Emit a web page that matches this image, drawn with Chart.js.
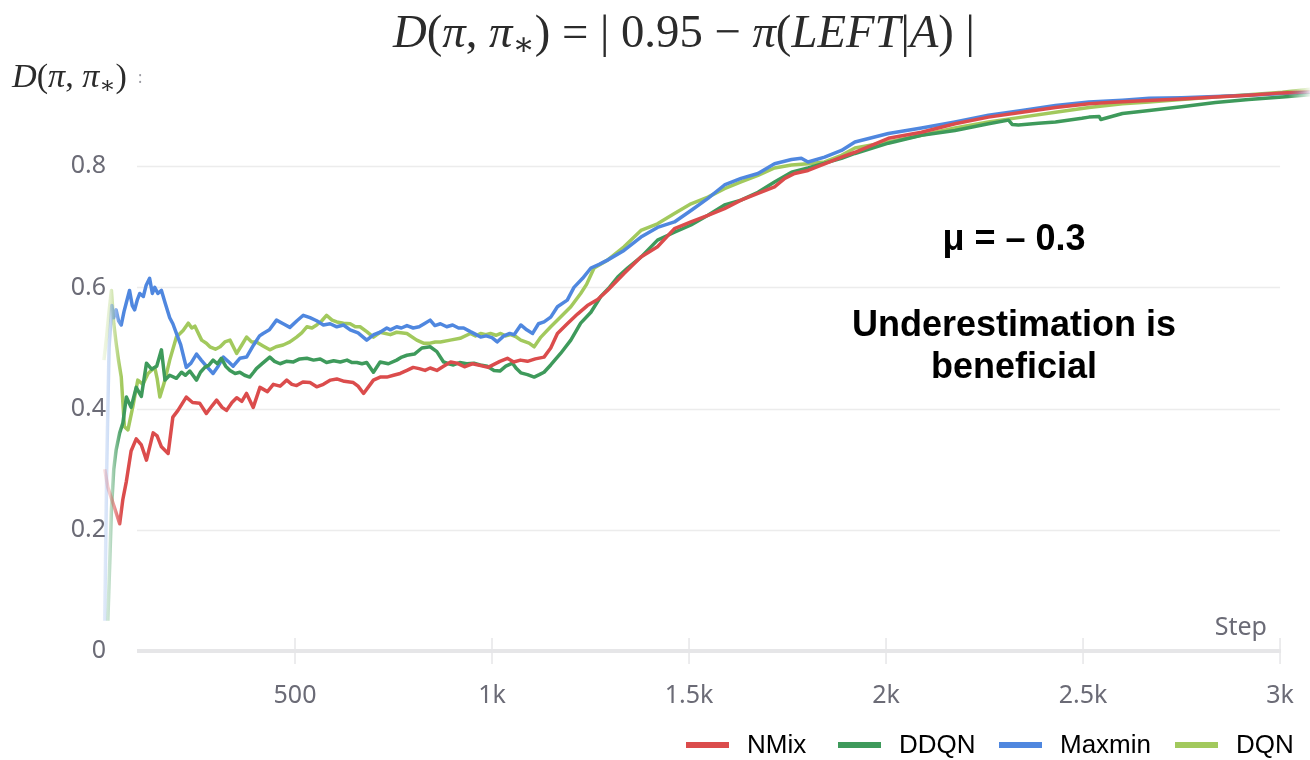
<!DOCTYPE html>
<html>
<head>
<meta charset="utf-8">
<script src="https://cdn.jsdelivr.net/npm/chart.js@4.4.0/dist/chart.umd.min.js"></script>
<style>
  html, body { margin: 0; padding: 0; background: #fff; }
  canvas { display: block; }
</style>
</head>
<body>
<canvas id="chart" width="1310" height="760"></canvas>
<script>
const seriesNames = ["NMix", "DDQN", "Maxmin", "DQN"];
const seriesColors = ["#db4c4c", "#3e9a5b", "#4f87df", "#a2c95d"];
const xTicks = [500, 1000, 1500, 2000, 2500, 3000];
const yTicks = [0, 0.2, 0.4, 0.6, 0.8];

// [step, D] pairs
const nmix = [[17,0.30],[25,0.27],[40,0.24],[55,0.21],[63,0.25],[72,0.28],[84,0.33],[97,0.35],[110,0.34],[123,0.315],[140,0.36],[150,0.355],[161,0.337],[178,0.326],[190,0.386],[203,0.397],[224,0.419],[240,0.41],[258,0.409],[275,0.392],[290,0.405],[301,0.414],[315,0.402],[326,0.397],[340,0.41],[352,0.418],[365,0.412],[377,0.425],[394,0.402],[411,0.435],[430,0.428],[445,0.44],[462,0.437],[479,0.447],[492,0.44],[504,0.438],[520,0.444],[538,0.443],[555,0.436],[572,0.44],[590,0.447],[606,0.449],[625,0.445],[648,0.443],[660,0.437],[674,0.425],[699,0.447],[716,0.452],[733,0.452],[750,0.455],[767,0.458],[784,0.463],[800,0.468],[815,0.466],[830,0.463],[843,0.467],[860,0.463],[877,0.47],[895,0.477],[911,0.475],[930,0.469],[950,0.474],[971,0.471],[990,0.468],[1005,0.473],[1020,0.478],[1039,0.483],[1055,0.477],[1072,0.48],[1090,0.478],[1110,0.482],[1132,0.485],[1149,0.5],[1166,0.524],[1191,0.54],[1217,0.556],[1242,0.57],[1268,0.58],[1293,0.595],[1335,0.623],[1378,0.65],[1420,0.667],[1463,0.697],[1505,0.708],[1548,0.719],[1590,0.73],[1632,0.744],[1675,0.755],[1717,0.766],[1743,0.78],[1768,0.788],[1802,0.793],[1844,0.804],[1887,0.815],[1921,0.823],[2006,0.846],[2090,0.856],[2175,0.87],[2260,0.881],[2345,0.889],[2430,0.897],[2515,0.903],[2565,0.905],[2650,0.908],[2750,0.911],[2836,0.914],[2920,0.917],[3006,0.921],[3076,0.923]];

const ddqn = [[25,0.05],[30,0.15],[34,0.233],[40,0.30],[46,0.332],[55,0.36],[63,0.376],[72,0.419],[84,0.402],[97,0.435],[110,0.42],[123,0.475],[136,0.465],[149,0.47],[161,0.497],[170,0.447],[182,0.455],[199,0.45],[212,0.46],[222,0.455],[233,0.462],[250,0.447],[260,0.46],[271,0.468],[282,0.472],[292,0.48],[303,0.474],[313,0.483],[324,0.47],[335,0.463],[348,0.458],[360,0.46],[372,0.455],[385,0.452],[395,0.46],[402,0.466],[418,0.475],[436,0.485],[448,0.478],[462,0.474],[478,0.478],[496,0.477],[512,0.482],[530,0.483],[547,0.48],[564,0.482],[580,0.476],[598,0.479],[615,0.477],[632,0.48],[645,0.476],[657,0.476],[670,0.474],[682,0.476],[699,0.46],[716,0.477],[737,0.474],[758,0.48],[771,0.485],[784,0.488],[803,0.49],[822,0.5],[843,0.502],[860,0.494],[877,0.477],[890,0.474],[902,0.472],[918,0.476],[936,0.474],[954,0.475],[970,0.472],[988,0.47],[1005,0.463],[1020,0.462],[1035,0.47],[1052,0.475],[1062,0.466],[1073,0.459],[1090,0.456],[1107,0.452],[1120,0.456],[1132,0.46],[1149,0.472],[1174,0.491],[1200,0.513],[1225,0.541],[1251,0.559],[1276,0.585],[1298,0.6],[1319,0.617],[1344,0.632],[1378,0.65],[1420,0.678],[1463,0.691],[1505,0.703],[1548,0.719],[1590,0.736],[1632,0.744],[1675,0.757],[1717,0.774],[1760,0.79],[1802,0.797],[1844,0.805],[1887,0.813],[1921,0.821],[2006,0.838],[2090,0.851],[2175,0.859],[2260,0.87],[2311,0.876],[2320,0.869],[2336,0.868],[2387,0.871],[2430,0.873],[2497,0.879],[2515,0.881],[2541,0.882],[2545,0.877],[2600,0.887],[2668,0.892],[2750,0.898],[2836,0.905],[2920,0.91],[3006,0.914],[3076,0.918]];

const maxmin = [[17,0.05],[22,0.30],[28,0.50],[35,0.57],[40,0.55],[46,0.563],[52,0.545],[59,0.538],[66,0.56],[72,0.575],[80,0.595],[87,0.57],[93,0.563],[100,0.58],[106,0.59],[115,0.585],[122,0.603],[131,0.615],[138,0.59],[144,0.6],[152,0.59],[161,0.595],[170,0.575],[182,0.55],[190,0.54],[199,0.524],[210,0.505],[224,0.468],[236,0.475],[250,0.49],[262,0.48],[275,0.47],[292,0.458],[305,0.47],[318,0.485],[330,0.478],[343,0.47],[360,0.483],[377,0.485],[395,0.505],[410,0.52],[419,0.524],[435,0.53],[453,0.546],[470,0.54],[487,0.534],[505,0.545],[521,0.554],[538,0.55],[555,0.545],[572,0.538],[589,0.54],[606,0.535],[623,0.538],[640,0.53],[660,0.525],[682,0.513],[700,0.522],[716,0.526],[733,0.533],[742,0.53],[758,0.535],[770,0.533],[784,0.537],[800,0.533],[815,0.535],[828,0.54],[843,0.546],[855,0.537],[869,0.54],[885,0.535],[900,0.538],[915,0.533],[928,0.533],[945,0.527],[960,0.522],[971,0.518],[985,0.52],[1000,0.517],[1013,0.51],[1030,0.52],[1045,0.524],[1056,0.522],[1073,0.538],[1088,0.53],[1103,0.524],[1118,0.54],[1132,0.543],[1149,0.551],[1166,0.568],[1191,0.579],[1208,0.6],[1230,0.615],[1251,0.632],[1272,0.638],[1293,0.645],[1335,0.661],[1378,0.683],[1420,0.699],[1463,0.708],[1505,0.727],[1548,0.747],[1590,0.769],[1632,0.78],[1675,0.788],[1717,0.804],[1760,0.811],[1785,0.813],[1802,0.807],[1844,0.815],[1887,0.826],[1921,0.84],[2006,0.854],[2090,0.863],[2175,0.873],[2260,0.884],[2345,0.892],[2430,0.9],[2515,0.906],[2600,0.909],[2668,0.912],[2750,0.913],[2836,0.915],[2920,0.917],[3006,0.92],[3076,0.922]];

const dqn = [[15,0.48],[22,0.52],[28,0.56],[34,0.595],[40,0.54],[46,0.508],[52,0.48],[59,0.452],[67,0.37],[76,0.365],[88,0.402],[101,0.447],[114,0.44],[127,0.458],[144,0.468],[150,0.45],[157,0.419],[170,0.447],[182,0.48],[199,0.518],[216,0.529],[229,0.541],[238,0.533],[246,0.536],[263,0.513],[275,0.508],[284,0.502],[298,0.498],[310,0.502],[322,0.51],[335,0.513],[352,0.491],[365,0.505],[377,0.518],[390,0.51],[402,0.51],[420,0.503],[436,0.497],[452,0.502],[470,0.505],[487,0.51],[504,0.518],[517,0.525],[530,0.535],[543,0.533],[555,0.538],[568,0.545],[580,0.554],[594,0.546],[606,0.543],[623,0.541],[640,0.54],[653,0.535],[665,0.535],[682,0.527],[699,0.518],[716,0.526],[742,0.522],[758,0.526],[784,0.524],[809,0.513],[826,0.508],[843,0.508],[856,0.51],[869,0.51],[894,0.513],[919,0.516],[945,0.524],[958,0.52],[971,0.524],[984,0.522],[996,0.524],[1010,0.521],[1022,0.524],[1035,0.52],[1047,0.522],[1060,0.519],[1073,0.513],[1094,0.508],[1107,0.502],[1124,0.518],[1149,0.535],[1174,0.551],[1200,0.568],[1225,0.59],[1240,0.605],[1259,0.632],[1293,0.645],[1335,0.667],[1378,0.694],[1420,0.705],[1463,0.722],[1505,0.738],[1548,0.749],[1590,0.763],[1632,0.774],[1675,0.785],[1717,0.797],[1760,0.802],[1802,0.804],[1844,0.807],[1887,0.818],[1921,0.83],[2006,0.84],[2090,0.851],[2175,0.863],[2260,0.873],[2345,0.881],[2430,0.889],[2515,0.897],[2600,0.903],[2668,0.906],[2750,0.91],[2836,0.914],[2920,0.918],[3006,0.922],[3076,0.927]];

const seriesData = [nmix, ddqn, maxmin, dqn];

const axisFont = '"Noto Sans", sans-serif';
const axisColor = "#6b6b76";
const mathFont = '"Liberation Serif", "DejaVu Serif", serif';

function withAlpha(hex, a) {
  const n = parseInt(hex.slice(1), 16);
  return `rgba(${n >> 16}, ${(n >> 8) & 255}, ${n & 255}, ${a})`;
}

// lines fade in at the left edge and out at the right edge
function fadedStroke(color) {
  return (ctx) => {
    const area = ctx.chart.chartArea;
    if (!area) return color;
    const w = area.right - area.left;
    const g = ctx.chart.ctx.createLinearGradient(area.left, 0, area.right, 0);
    g.addColorStop(0, withAlpha(color, 0.05));
    g.addColorStop(12 / w, withAlpha(color, 0.3));
    g.addColorStop(24 / w, color);
    g.addColorStop((w - 22) / w, color);
    g.addColorStop(1, withAlpha(color, 0.1));
    return g;
  };
}

/* rich math text: runs of upright / italic / subscript */
function runsWidth(c, runs, size) {
  let w = 0;
  runs.forEach(r => {
    c.font = `${r.i ? "italic " : ""}${size * (r.s || 1)}px ${mathFont}`;
    w += c.measureText(r.t).width;
  });
  return w;
}

function drawRuns(c, runs, left, baseline, width, color) {
  const size = 40 * width / runsWidth(c, runs, 40);
  let x = left;
  c.fillStyle = color;
  c.textAlign = "left";
  c.textBaseline = "alphabetic";
  runs.forEach(r => {
    c.font = `${r.i ? "italic " : ""}${size * (r.s || 1)}px ${mathFont}`;
    c.fillText(r.t, x, baseline + (r.dy || 0) * size);
    x += c.measureText(r.t).width;
  });
}

const titleRuns = [
  { t: "D", i: 1 }, { t: "(" }, { t: "π", i: 1 }, { t: ", " }, { t: "π", i: 1 },
  { t: "∗", s: 0.7, dy: 0.18 }, { t: ")" }, { t: " = | 0.95 − " }, { t: "π", i: 1 },
  { t: "(" }, { t: "LEFT", i: 1 }, { t: "|" }, { t: "A", i: 1 }, { t: ") |" }
];
const yLabelRuns = [
  { t: "D", i: 1 }, { t: "(" }, { t: "π", i: 1 }, { t: ", " }, { t: "π", i: 1 },
  { t: "∗", s: 0.7, dy: 0.18 }, { t: ")" }
];

const decorPlugin = {
  id: "decor",
  beforeDatasetsDraw(chart) {
    const c = chart.ctx;
    const xs = chart.scales.x, ys = chart.scales.y;
    const gx0 = 137, gx1 = xs.getPixelForValue(3000);
    c.save();
    c.strokeStyle = "#ececec";
    c.lineWidth = 1.5;
    yTicks.slice(1).forEach(v => {
      const y = Math.round(ys.getPixelForValue(v)) + 0.5;
      c.beginPath(); c.moveTo(gx0, y); c.lineTo(gx1, y); c.stroke();
    });
    const y0 = ys.getPixelForValue(0);
    c.strokeStyle = "#e6e6e8";
    c.lineWidth = 4;
    c.beginPath(); c.moveTo(gx0, y0); c.lineTo(gx1 + 1, y0); c.stroke();
    c.lineWidth = 1.5;
    xTicks.forEach(v => {
      const x = xs.getPixelForValue(v);
      c.beginPath(); c.moveTo(x, y0 - 13); c.lineTo(x, y0 + 13); c.stroke();
    });
    // y tick labels sit over the left edge of the plot
    c.fillStyle = axisColor;
    c.font = `25px ${axisFont}`;
    c.textAlign = "right";
    c.textBaseline = "middle";
    yTicks.forEach(v => {
      c.fillText(String(v), 106, ys.getPixelForValue(v));
    });
    c.restore();
  },
  afterDraw(chart) {
    const c = chart.ctx;
    c.save();
    // title and y label
    drawRuns(c, titleRuns, 393, 47, 582, "#2b2b2b");
    drawRuns(c, yLabelRuns, 12, 87, 115, "#2b2b2b");
    c.fillStyle = "#9a9aa2";
    c.font = `16px ${axisFont}`;
    c.textAlign = "left";
    c.textBaseline = "middle";
    c.fillText(":", 138, 78);

    // x axis name
    c.fillStyle = axisColor;
    c.font = `25px ${axisFont}`;
    c.textAlign = "right";
    c.fillText("Step", 1267, 628);

    // annotations
    c.fillStyle = "#000";
    c.font = 'bold 36px "Liberation Sans", Arial, sans-serif';
    c.textAlign = "center";
    c.fillText("μ = – 0.3", 1014, 240);
    c.fillText("Underestimation is", 1014, 326);
    c.fillText("beneficial", 1014, 368);

    // legend
    const swatchX = [686, 838, 999, 1175];
    c.font = '26px "Liberation Sans", Arial, sans-serif';
    c.textAlign = "left";
    seriesNames.forEach((name, i) => {
      c.strokeStyle = seriesColors[i];
      c.lineWidth = 6;
      c.beginPath(); c.moveTo(swatchX[i], 745); c.lineTo(swatchX[i] + 43, 745); c.stroke();
      c.fillStyle = "#000";
      c.fillText(name, swatchX[i] + 61, 746);
    });
    c.restore();
  }
};

new Chart(document.getElementById("chart"), {
  type: "line",
  data: {
    datasets: seriesNames.map((name, i) => ({
      label: name,
      data: seriesData[i].map(p => ({ x: p[0], y: p[1] })),
      borderColor: fadedStroke(seriesColors[i]),
      borderWidth: 3.5,
      borderJoinStyle: "round",
      pointRadius: 0,
      tension: 0,
      fill: false
    }))
  },
  options: {
    responsive: false,
    animation: false,
    layout: { padding: { top: 85, left: 0, right: 0, bottom: 0 } },
    plugins: { legend: { display: false }, tooltip: { enabled: false } },
    scales: {
      x: {
        type: "linear",
        min: 0,
        max: 3076,
        grid: { display: false, drawTicks: false },
        border: { display: false },
        afterBuildTicks: s => { s.ticks = xTicks.map(v => ({ value: v })); },
        afterFit: s => { s.height = 109; s.paddingLeft = 0; s.paddingRight = 0; },
        ticks: {
          callback: v => v >= 1000 ? (v / 1000) + "k" : String(v),
          color: axisColor,
          font: { family: axisFont, size: 25 },
          padding: 30,
          maxRotation: 0
        }
      },
      y: {
        min: 0,
        max: 0.934,
        grid: { display: false, drawTicks: false },
        border: { display: false },
        afterBuildTicks: s => { s.ticks = yTicks.map(v => ({ value: v })); },
        afterFit: s => { s.width = 98; s.paddingTop = 0; s.paddingBottom = 0; },
        ticks: { display: false }
      }
    }
  },
  plugins: [decorPlugin]
});
</script>
</body>
</html>
